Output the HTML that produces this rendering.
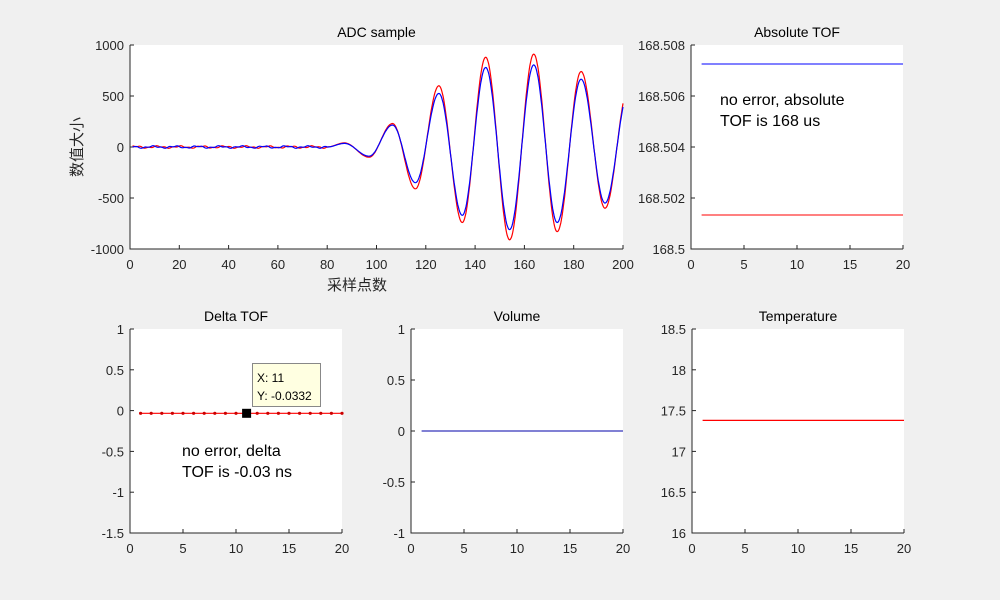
<!DOCTYPE html>
<html><head><meta charset="utf-8"><style>
html,body{margin:0;padding:0;background:#f0f0f0;}
svg{display:block;font-family:"Liberation Sans","Noto Sans CJK SC",sans-serif;}
</style></head><body>
<svg id="s" width="1000" height="600" xmlns="http://www.w3.org/2000/svg"></svg>
<script>
const S=document.getElementById('s');let h='';
function ax(L,R,T,B,x0,x1,y0,y1,xt,yt,title,ylabFmt){
 h+=`<rect x="${L}" y="${T}" width="${R-L}" height="${B-T}" fill="#fff"/>`;
 h+=`<text x="${(L+R)/2}" y="${T-8}" font-size="14" text-anchor="middle" fill="#000">${title}</text>`;
 const X=v=>L+(v-x0)/(x1-x0)*(R-L), Y=v=>B-(v-y0)/(y1-y0)*(B-T);
 xt.forEach(v=>{const x=X(v);h+=`<line x1="${x}" y1="${B}" x2="${x}" y2="${B-4}" stroke="#262626"/><text x="${x}" y="${B+20}" font-size="13" text-anchor="middle" fill="#262626">${v}</text>`;});
 yt.forEach(v=>{const y=Y(v);h+=`<line x1="${L}" y1="${y}" x2="${L+4}" y2="${y}" stroke="#262626"/><text x="${L-6}" y="${y+5}" font-size="13" text-anchor="end" fill="#262626">${ylabFmt?ylabFmt(v):v}</text>`;});
 h+=`<path d="M${L} ${T}V${B}H${R}" fill="none" stroke="#262626" stroke-width="1"/>`;
 return [X,Y];
}
// ADC
let [X,Y]=ax(130,623,45,249,0,200,-1000,1000,[0,20,40,60,80,100,120,140,160,180,200],[-1000,-500,0,500,1000],'ADC sample');
h+=`<text x="357" y="290" font-size="15" text-anchor="middle" fill="#262626">采样点数</text>`;
h+=`<text transform="translate(82,147) rotate(-90)" font-size="15" text-anchor="middle" fill="#262626">数值大小</text>`;
const E=[[80,0,0],[87,40,35],[97,-100,-90],[106.5,230,215],[115.8,-410,-350],[125.3,600,525],[134.8,-740,-670],[144.3,880,780],[154,-910,-810],[163.8,910,805],[173.3,-830,-740],[183,740,665],[192.7,-600,-550],[202.4,600,550]];
function wave(k,seed){let p='';for(let x=1;x<=200;x+=0.25){let y;
 if(x<80){y=8*Math.sin(x*0.7+seed)+5*Math.sin(x*1.9+seed*2);}
 else{let i=0;while(E[i+1][0]<x)i++;const a=E[i],b=E[i+1];const t=(x-a[0])/(b[0]-a[0]);y=a[k]+(b[k]-a[k])*(1-Math.cos(Math.PI*t))/2;}
 p+=(p?'L':'M')+X(x).toFixed(1)+' '+Y(y).toFixed(1);}return p;}
h+=`<path d="${wave(1,0)}" fill="none" stroke="#f00" stroke-width="1.2"/>`;
h+=`<path d="${wave(2,1.3)}" fill="none" stroke="#00f" stroke-width="1.2"/>`;
// Absolute TOF
[X,Y]=ax(691,903,45,249,0,20,168.5,168.508,[0,5,10,15,20],[168.5,168.502,168.504,168.506,168.508],'Absolute TOF');
h+=`<line x1="${X(1)}" y1="64" x2="903" y2="64" stroke="#00f"/><line x1="${X(1)}" y1="215" x2="903" y2="215" stroke="#f00"/>`;
h+=`<text x="720" y="105" font-size="16" fill="#000">no error, absolute</text><text x="720" y="126" font-size="16" fill="#000">TOF is 168 us</text>`;
// Delta TOF
[X,Y]=ax(130,342,329,533,0,20,-1.5,1,[0,5,10,15,20],[-1.5,-1,-0.5,0,0.5,1],'Delta TOF');
const yd=Y(-0.0332);
h+=`<line x1="${X(1)}" y1="${yd}" x2="${X(20)}" y2="${yd}" stroke="#f00" stroke-width="1.2"/>`;
for(let i=1;i<=20;i++)h+=`<circle cx="${X(i)}" cy="${yd}" r="1.6" fill="#c00"/>`;
h+=`<rect x="${X(11)-4.5}" y="${yd-4.5}" width="9" height="9" fill="#000"/>`;
h+=`<rect x="252.5" y="363.5" width="68" height="43" fill="#ffffe1" stroke="#888"/>`;
h+=`<text x="257" y="382" font-size="12" fill="#000">X: 11</text><text x="257" y="400" font-size="12" fill="#000">Y: -0.0332</text>`;
h+=`<text x="182" y="456" font-size="16" fill="#000">no error, delta</text><text x="182" y="477" font-size="16" fill="#000">TOF is -0.03 ns</text>`;
// Volume
[X,Y]=ax(411,623,329,533,0,20,-1,1,[0,5,10,15,20],[-1,-0.5,0,0.5,1],'Volume');
h+=`<line x1="${X(1)}" y1="${Y(0)}" x2="623" y2="${Y(0)}" stroke="#00a"/>`;
// Temperature
[X,Y]=ax(692,904,329,533,0,20,16,18.5,[0,5,10,15,20],[16,16.5,17,17.5,18,18.5],'Temperature');
h+=`<line x1="${X(1)}" y1="${Y(17.38)}" x2="904" y2="${Y(17.38)}" stroke="#f00" stroke-width="1.2"/>`;
S.innerHTML=h;
</script>
</body></html>
